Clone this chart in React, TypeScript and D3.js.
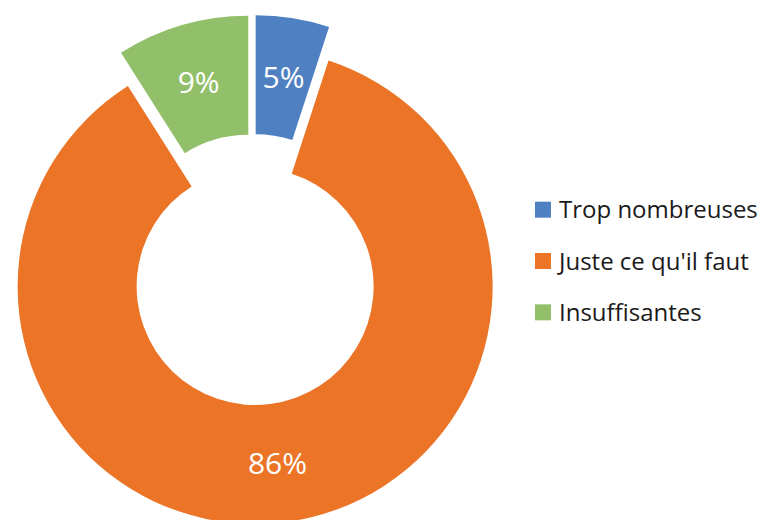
import React from "react";
import * as d3 from "d3";

const categories = ["Trop nombreuses", "Juste ce qu'il faut", "Insuffisantes"];
const values = [5, 86, 9];
const labels = ["5%", "86%", "9%"];
const colors = ["#4f81c2", "#eb7427", "#92c06a"];

const width = 771;
const height = 520;

export default function App() {
  // pie centre before explosion
  const cx = 253;
  const cy = 269.6;
  const outerR = 237.5;
  const innerR = 118.5;
  const explode = 17;

  const pie = d3
    .pie<number>()
    .sort(null)
    .value((d) => d)
    .startAngle(0)
    .endAngle(2 * Math.PI);
  const arcs = pie(values);
  const arc = d3.arc<d3.PieArcDatum<number>>().innerRadius(innerR).outerRadius(outerR);

  const legendY = d3.scaleBand<string>().domain(categories).range([184, 338]);

  return (
    <svg
      width={width}
      height={height}
      style={{ position: "absolute", left: 0, top: 0, background: "#fff" }}
      fontFamily="'Open Sans', sans-serif"
    >
      <g transform={`translate(${cx},${cy})`}>
        {arcs.map((a, i) => {
          const mid = (a.startAngle + a.endAngle) / 2;
          const dx = Math.sin(mid) * explode;
          const dy = -Math.cos(mid) * explode;
          const [lx, ly] = arc.centroid(a);
          return (
            <g key={i} transform={`translate(${dx},${dy})`}>
              <path d={arc(a) || ""} fill={colors[i]} />
              <text
                x={lx}
                y={ly}
                dy="0.36em"
                textAnchor="middle"
                fill="#fff"
                fontSize={30}
              >
                {labels[i]}
              </text>
            </g>
          );
        })}
      </g>
      <g>
        {categories.map((c, i) => {
          const y = (legendY(c) || 0) + legendY.bandwidth() / 2;
          return (
            <g key={c}>
              <rect x={535} y={y - 8} width={16} height={16} fill={colors[i]} />
              <text x={559} y={y} dy="0.36em" fontSize={24} fill="#1a1a1a">
                {c}
              </text>
            </g>
          );
        })}
      </g>
    </svg>
  );
}
